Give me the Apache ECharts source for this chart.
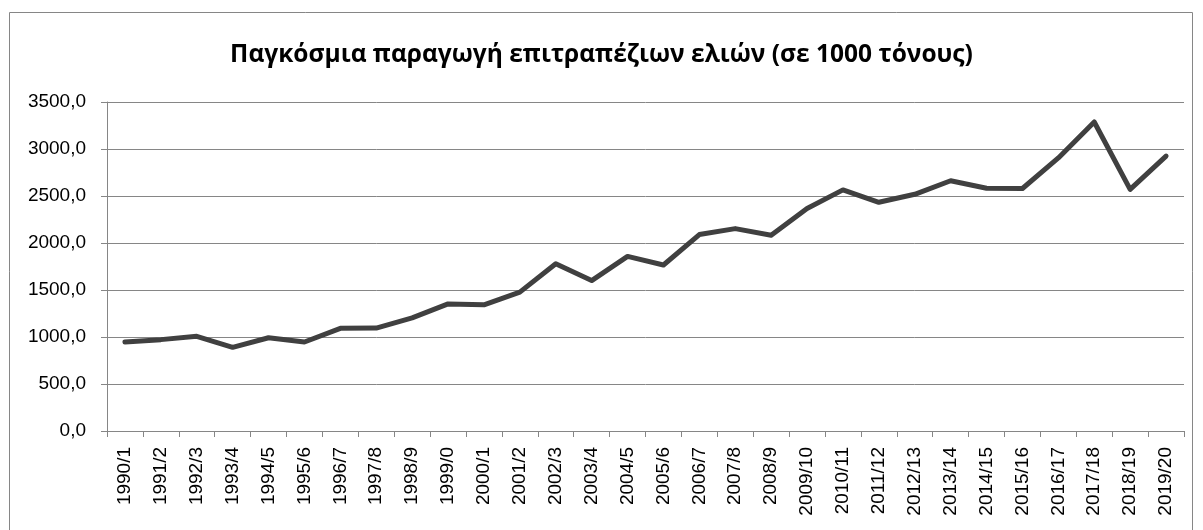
<!DOCTYPE html>
<html>
<head>
<meta charset="utf-8">
<script src="https://cdn.jsdelivr.net/npm/echarts@6/dist/echarts.min.js"></script>
<style>
  html, body { margin: 0; padding: 0; background: #fff; }
  #chart { width: 1203px; height: 530px; }
</style>
</head>
<body>
<div id="chart"></div>
<script>
const seasons = [
  '1990/1', '1991/2', '1992/3', '1993/4', '1994/5', '1995/6', '1996/7', '1997/8', '1998/9', '1999/0',
  '2000/1', '2001/2', '2002/3', '2003/4', '2004/5', '2005/6', '2006/7', '2007/8', '2008/9', '2009/10',
  '2010/11', '2011/12', '2012/13', '2013/14', '2014/15', '2015/16', '2016/17', '2017/18', '2018/19', '2019/20'
];
const production = [
  947, 972, 1007, 890, 992, 947, 1092, 1095, 1203, 1352,
  1342, 1477, 1780, 1600, 1857, 1766, 2090, 2153, 2082, 2367,
  2565, 2433, 2518, 2662, 2582, 2580, 2905, 3287, 2570, 2925
];
const yTicks = { min: 0, max: 3500, interval: 500 };

const chart = echarts.init(document.getElementById('chart'), null, { renderer: 'canvas' });
const grey = '#868686';
const font = '"Liberation Sans", Arial, sans-serif';

chart.setOption({
  backgroundColor: '#fff',
  animation: false,
  graphic: [{
    type: 'rect',
    shape: { x: 9.5, y: 12.5, width: 1183, height: 540 },
    style: { fill: 'none', stroke: grey, lineWidth: 1 },
    silent: true,
  }],
  title: {
    text: 'Παγκόσμια παραγωγή επιτραπέζιων ελιών (σε 1000 τόνους)',
    left: 'center', top: 38,
    textStyle: { fontFamily: '"Open Sans", sans-serif', fontWeight: 'bold', fontSize: 24.5, color: '#000' },
  },
  grid: { left: 107, right: 19, top: 102, bottom: 99 },
  xAxis: {
    type: 'category',
    data: seasons,
    boundaryGap: true,
    axisLine: { lineStyle: { color: grey, width: 1 } },
    axisTick: { show: true, length: 6, lineStyle: { color: grey } },
    axisLabel: { rotate: 90, interval: 0, margin: 16, color: '#000', fontFamily: font, fontSize: 19 },
  },
  yAxis: {
    type: 'value',
    min: yTicks.min, max: yTicks.max, interval: yTicks.interval,
    axisLine: { show: true, lineStyle: { color: grey, width: 1 } },
    axisTick: { show: true, length: 6, lineStyle: { color: grey } },
    splitLine: { lineStyle: { color: grey, width: 1 } },
    axisLabel: {
      margin: 21, color: '#000', fontFamily: font, fontSize: 19,
      formatter: v => v.toFixed(1).replace('.', ','),
    },
  },
  series: [{
    type: 'line',
    data: production,
    symbol: 'none',
    lineStyle: { color: '#404040', width: 5, cap: 'round', join: 'round' },
  }],
});
</script>
</body>
</html>
